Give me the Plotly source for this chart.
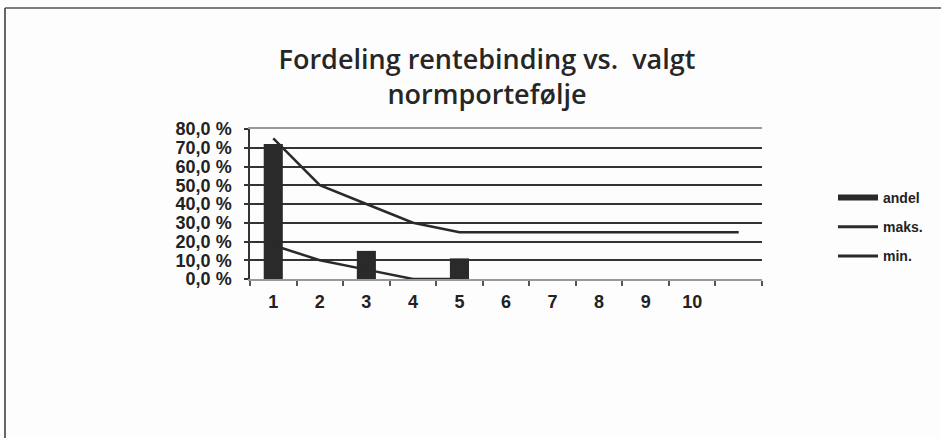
import plotly.graph_objects as go

# ---- data ----
categories = [1, 2, 3, 4, 5, 6, 7, 8, 9, 10, 11]
x_labels = ["1", "2", "3", "4", "5", "6", "7", "8", "9", "10", ""]
andel = [72, 0, 15, 0, 11, 0, 0, 0, 0, 0, 0]
maks = [75, 50, 40, 30, 25, 25, 25, 25, 25, 25, 25]
minimum = [18, 10, 5, 0, 0, None, None, None, None, None, None]
y_ticks = [0, 10, 20, 30, 40, 50, 60, 70, 80]
y_labels = ["0,0 %", "10,0 %", "20,0 %", "30,0 %", "40,0 %", "50,0 %", "60,0 %", "70,0 %", "80,0 %"]
title_text = "Fordeling rentebinding vs.  valgt<br>normportefølje"

W, H = 941, 438
ML, MR, MT, MB = 250, 179, 129, 159
pw, ph = W - ML - MR, H - MT - MB

dark = "#2a2a2a"

fig = go.Figure()
fig.add_trace(go.Bar(x=categories, y=andel, width=0.41, marker=dict(color=dark, line=dict(width=0)),
                     showlegend=False, name="andel"))
fig.add_trace(go.Scatter(x=categories, y=maks, mode="lines", line=dict(color=dark, width=2.5),
                         showlegend=False, name="maks."))
fig.add_trace(go.Scatter(x=categories, y=minimum, mode="lines", line=dict(color=dark, width=2.5),
                         showlegend=False, name="min."))

# legend entries (line-style keys as in the original)
for nm, wdt, grp in [("andel", 6, "a"), ("maks.", 3, "b"), ("min.", 3, "c")]:
    fig.add_trace(go.Scatter(x=[None], y=[None], mode="lines", name=nm, legendgroup=grp,
                             line=dict(color=dark, width=wdt), showlegend=True))

fig.update_layout(
    width=W, height=H,
    margin=dict(l=ML, r=MR, t=MT, b=MB),
    paper_bgcolor="#fdfdfd", plot_bgcolor="rgba(0,0,0,0)",
    title=dict(text=title_text, x=487 / W, xanchor="center", xref="container",
               y=1 - 69 / H, yanchor="top", yref="container",
               font=dict(family="Open Sans", size=27, color="#262626", weight=600)),
    bargap=0.5,
    legend=dict(xref="container", yref="container", x=833 / W, y=1 - 182 / H,
                xanchor="left", yanchor="top", bgcolor="rgba(0,0,0,0)",
                font=dict(family="Liberation Sans", size=14, color="#222", weight="bold"),
                tracegroupgap=8, itemwidth=40),
    xaxis=dict(range=[0.5, 11.5], tickmode="array", tickvals=categories, ticktext=x_labels,
               ticks="", showgrid=False, zeroline=False,
               showline=True, linecolor="#9a9a9a", linewidth=2, mirror=True,
               ticklabelstandoff=5,
               tickfont=dict(family="Liberation Sans", size=18, color="#222", weight="bold"),
               minor=dict(ticks="outside", tick0=0.5, dtick=1, ticklen=5, tickcolor="#555",
                          tickwidth=1.5, showgrid=False)),
    yaxis=dict(range=[0, 80], tickmode="array", tickvals=y_ticks, ticktext=y_labels,
               ticks="outside", ticklen=4, tickcolor="#333", tickwidth=1.5,
               showgrid=True, gridcolor="#333", gridwidth=1.5, zeroline=False,
               showline=True, linecolor="#333", linewidth=1.5,
               ticklabelstandoff=9,
               tickfont=dict(family="Liberation Sans", size=18, color="#222", weight="bold")),
)

# chart frame (left and top edges visible in original)
def px_x(p):
    return (p - ML) / pw

def px_y(p):
    return (H - MB - p) / ph

fig.add_shape(type="line", xref="paper", yref="paper", x0=px_x(5), x1=px_x(5), y0=px_y(8), y1=px_y(H + 5),
              line=dict(color="#333", width=1.5))
fig.add_shape(type="line", xref="paper", yref="paper", x0=px_x(5), x1=px_x(W + 5), y0=px_y(8), y1=px_y(8),
              line=dict(color="#555", width=1.5))

fig.write_html("out.html", config={"displayModeBar": False},
               post_script="document.body.style.margin='0';")
